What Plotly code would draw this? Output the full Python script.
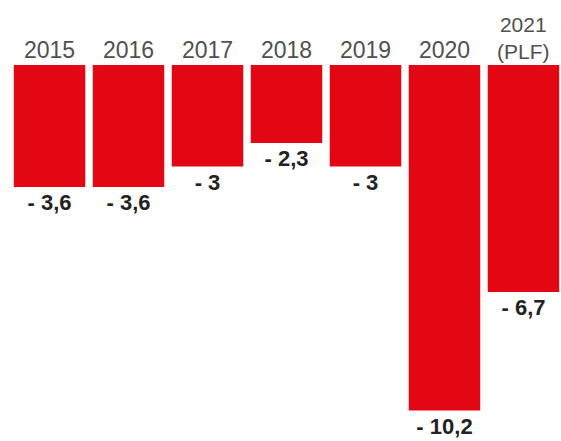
import plotly.graph_objects as go

years = ["2015", "2016", "2017", "2018", "2019", "2020", "2021"]
year_labels = ["2015", "2016", "2017", "2018", "2019", "2020", "2021<br>(PLF)"]
deficits = [-3.6, -3.6, -3.0, -2.3, -3.0, -10.2, -6.7]
value_labels = ["- 3,6", "- 3,6", "- 3", "- 2,3", "- 3", "- 10,2", "- 6,7"]

fig = go.Figure()
fig.add_trace(go.Bar(
    x=years,
    y=deficits,
    text=value_labels,
    texttemplate="<b>%{text}</b>",
    textposition="outside",
    constraintext="none",
    textfont=dict(family="Liberation Sans", size=22, color="#222222"),
    marker=dict(color="#e30613", line=dict(width=0)),
    cliponaxis=False,
    hoverinfo="skip",
))

for i, lab in enumerate(year_labels):
    multi = "<br>" in lab
    fig.add_annotation(
        x=i, y=1, xref="x", yref="paper",
        text=lab, showarrow=False,
        xanchor="center", yanchor="bottom",
        yshift=0,
        font=dict(family="Liberation Sans", size=21 if multi else 23, color="#505050"),
    )

fig.update_layout(
    width=561, height=441,
    margin=dict(l=0, r=0, t=65, b=0),
    paper_bgcolor="white", plot_bgcolor="white",
    showlegend=False,
    bargap=0.095,
    xaxis=dict(type="category", range=[-0.627, 6.475], showticklabels=False,
               showgrid=False, zeroline=False, showline=False, fixedrange=True),
    yaxis=dict(range=[-11.1, 0], showticklabels=False, showgrid=False,
               zeroline=False, showline=False, fixedrange=True),
)

fig.write_html("out.html")
